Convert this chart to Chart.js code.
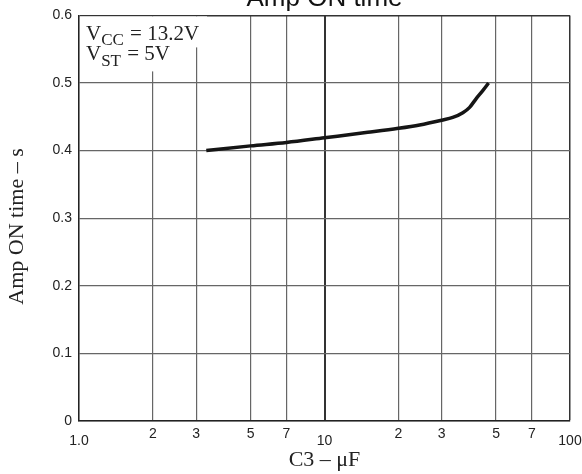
<!DOCTYPE html>
<html>
<head>
<meta charset="utf-8">
<title>Amp ON time</title>
<script src="https://cdn.jsdelivr.net/npm/chart.js@4"></script>
<style>
    html, body { margin: 0; padding: 0; background: #fff; }
    #wrap { width: 582px; height: 474px; position: relative; }
</style>
</head>
<body>
<div id="wrap"><canvas id="ampChart"></canvas></div>
<script>
// values (C3 in uF, on-time in s)
const capValues = [3.3, 5, 7, 10, 15, 20, 24.4, 30, 33.3, 36.6, 39, 41.5, 44.2, 46.6];
const onTimes = [0.400, 0.407, 0.412, 0.419, 0.427, 0.433, 0.438, 0.445, 0.449, 0.456, 0.464, 0.477, 0.489, 0.500];

const xTickValues = [1, 2, 3, 5, 7, 10, 20, 30, 50, 70, 100];
const xTickLabels = ['1.0', '2', '3', '5', '7', '10', '2', '3', '5', '7', '100'];
const yTickValues = [0, 0.1, 0.2, 0.3, 0.4, 0.5, 0.6];
const yTickLabels = ['0', '0.1', '0.2', '0.3', '0.4', '0.5', '0.6'];

const chartTitle = 'Amp ON time';
const noteLines = [
    [['V', 'main'], ['CC', 'sub'], [' = 13.2V', 'main']],
    [['V', 'main'], ['ST', 'sub'], [' = 5V', 'main']]
];

const sans = '"Liberation Sans", Arial, sans-serif';
const serif = '"Liberation Serif", "Times New Roman", serif';
const isDecade = v => v === 1 || v === 10 || v === 100;

// title sits mostly above the page edge in the original
const cutTitle = {
    id: 'cutTitle',
    afterDraw(chart) {
        const { ctx, chartArea } = chart;
        ctx.save();
        ctx.font = '26px ' + sans;
        ctx.fillStyle = '#111';
        ctx.textAlign = 'center';
        ctx.textBaseline = 'alphabetic';
        ctx.fillText(chartTitle, (chartArea.left + chartArea.right) / 2, 6);
        ctx.restore();
    }
};

// V_CC / V_ST note with white box over the grid
const conditionNote = {
    id: 'conditionNote',
    beforeDatasetsDraw(chart) {
        const { ctx, chartArea } = chart;
        const left = chartArea.left, top = chartArea.top;
        ctx.save();
        ctx.fillStyle = '#fff';
        ctx.fillRect(left + 1, top + 1, 127, 31);
        ctx.fillRect(left + 1, top + 32, 93, 24);
        ctx.fillStyle = '#222';
        ctx.textAlign = 'left';
        ctx.textBaseline = 'alphabetic';
        const baselines = [top + 24.5, top + 45];
        noteLines.forEach((parts, i) => {
            let x = left + 7;
            parts.forEach(([txt, kind]) => {
                ctx.font = (kind === 'sub' ? '17px ' : '21px ') + serif;
                const y = baselines[i] + (kind === 'sub' ? 5.5 : 0);
                ctx.fillText(txt, x, y);
                x += ctx.measureText(txt).width + (kind === 'sub' ? 1 : 0);
            });
        });
        ctx.restore();
    }
};

new Chart(document.getElementById('ampChart'), {
    type: 'line',
    data: {
        datasets: [{
            data: capValues.map((c, i) => ({ x: c, y: onTimes[i] })),
            borderColor: '#151515',
            borderWidth: 3.5,
            cubicInterpolationMode: 'monotone',
            pointRadius: 0,
            fill: false
        }]
    },
    options: {
        responsive: true,
        maintainAspectRatio: false,
        animation: false,
        layout: { padding: { top: 15, right: 12, bottom: 0, left: 0 } },
        plugins: {
            legend: { display: false },
            tooltip: { enabled: false }
        },
        scales: {
            x: {
                type: 'logarithmic',
                min: 1,
                max: 100,
                afterBuildTicks: s => { s.ticks = xTickValues.map(v => ({ value: v })); },
                afterFit: s => { s.height = 53; s.paddingLeft = 0; s.paddingRight = 0; },
                ticks: {
                    autoSkip: false,
                    maxRotation: 0,
                    padding: 5,
                    color: '#222',
                    font: ctx => ({ family: sans, size: 14, lineHeight: ctx.tick && isDecade(ctx.tick.value) ? '30px' : 1.2 }),
                    callback: (v, i) => xTickLabels[i]
                },
                grid: {
                    drawTicks: false,
                    color: ctx => ctx.tick && (ctx.tick.value === 10 || ctx.tick.value === 100) ? '#333' : '#666',
                    lineWidth: ctx => ctx.tick && ctx.tick.value === 10 ? 2 : (ctx.tick && ctx.tick.value === 100 ? 1.5 : 1.2)
                },
                border: { color: '#222', width: 1.5 },
                title: {
                    display: true,
                    text: 'C3 – μF',
                    color: '#222',
                    font: { family: serif, size: 22 },
                    padding: { top: 0, bottom: 1 }
                }
            },
            y: {
                type: 'linear',
                min: 0,
                max: 0.6,
                afterBuildTicks: s => { s.ticks = yTickValues.map(v => ({ value: v })); },
                afterFit: s => { s.width = 79; },
                ticks: {
                    padding: 7,
                    color: '#222',
                    font: { family: sans, size: 14 },
                    callback: (v, i) => yTickLabels[i]
                },
                grid: {
                    drawTicks: false,
                    color: ctx => ctx.tick && ctx.tick.value === 0.6 ? '#333' : '#666',
                    lineWidth: ctx => ctx.tick && ctx.tick.value === 0.6 ? 1.5 : 1.2
                },
                border: { color: '#222', width: 1.5 },
                title: {
                    display: true,
                    text: 'Amp ON time – s\u2002 ',
                    color: '#222',
                    font: { family: serif, size: 22 },
                    padding: { top: 4, bottom: 0 }
                }
            }
        }
    },
    plugins: [cutTitle, conditionNote]
});
</script>
</body>
</html>
